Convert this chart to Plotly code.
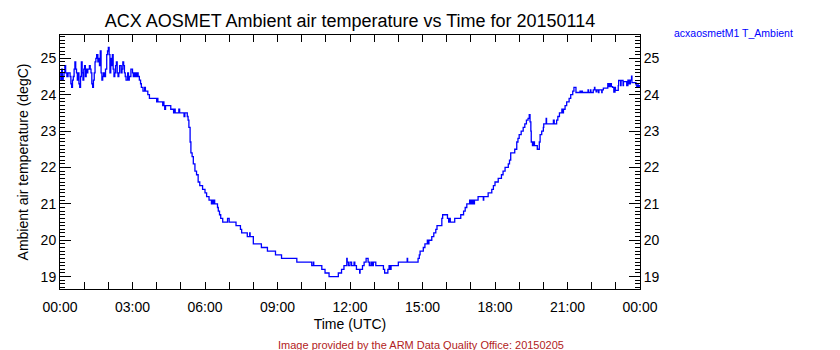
import plotly.graph_objects as go

# AOSMET ambient air temperature, 2015-01-14 (UTC), as step changes (HH:MM, degC)
times = [
    "00:00", "00:02", "00:04", "00:06", "00:08", "00:10", "00:12", "00:14", "00:17", "00:20",
    "00:23", "00:25", "00:27", "00:29", "00:31", "00:33", "00:35", "00:37", "00:39", "00:41",
    "00:43", "00:45", "00:47", "00:49", "00:51", "00:53", "00:55", "00:57", "00:59", "01:01",
    "01:03", "01:05", "01:07", "01:09", "01:11", "01:13", "01:15", "01:17", "01:19", "01:21",
    "01:23", "01:25", "01:27", "01:29", "01:31", "01:34", "01:36", "01:38", "01:40", "01:42",
    "01:44", "01:46", "01:48", "01:50", "01:53", "01:56", "01:58", "02:00", "02:02", "02:04",
    "02:06", "02:08", "02:10", "02:12", "02:14", "02:16", "02:18", "02:20", "02:22", "02:24",
    "02:26", "02:28", "02:30", "02:32", "02:34", "02:36", "02:38", "02:40", "02:42", "02:44",
    "02:46", "02:48", "02:50", "02:52", "02:54", "02:56", "02:58", "03:00", "03:02", "03:04",
    "03:06", "03:08", "03:10", "03:12", "03:14", "03:17", "03:20", "03:22", "03:26", "03:30",
    "03:32", "03:36", "03:38", "03:42", "04:00", "04:02", "04:03", "04:15", "04:17", "04:18",
    "04:20", "04:22", "04:35", "04:42", "04:44", "04:46", "04:55", "04:57", "05:08", "05:10",
    "05:16", "05:18", "05:20", "05:23", "05:25", "05:28", "05:31", "05:35", "05:39", "05:43",
    "05:47", "05:54", "06:00", "06:04", "06:10", "06:16", "06:18", "06:20", "06:22", "06:24",
    "06:31", "06:33", "06:36", "06:39", "06:44", "06:56", "07:00", "07:17", "07:28", "07:31",
    "07:45", "07:51", "07:52", "08:00", "08:20", "08:35", "08:55", "09:10", "09:48", "10:25",
    "10:29", "10:30", "10:50", "10:58", "11:08", "11:31", "11:39", "11:45", "11:52", "11:53",
    "11:56", "12:00", "12:04", "12:10", "12:12", "12:16", "12:24", "12:25", "12:31", "12:35",
    "12:40", "12:45", "12:48", "12:52", "12:55", "12:58", "13:04", "13:23", "13:26", "13:34",
    "13:37", "13:39", "13:42", "14:00", "14:22", "14:23", "14:49", "14:52", "14:54", "15:02",
    "15:06", "15:12", "15:14", "15:16", "15:23", "15:28", "15:33", "15:36", "15:48", "15:50",
    "16:02", "16:05", "16:07", "16:09", "16:20", "16:35", "16:42", "16:46", "16:50", "16:57",
    "17:00", "17:03", "17:06", "17:09", "17:18", "17:31", "17:32", "17:34", "17:43", "17:52",
    "17:56", "18:00", "18:08", "18:16", "18:20", "18:25", "18:33", "18:36", "18:39", "18:49",
    "18:54", "18:57", "19:00", "19:05", "19:10", "19:14", "19:18", "19:22", "19:25", "19:27",
    "19:29", "19:30", "19:33", "19:36", "19:38", "19:41", "19:45", "19:50", "19:52", "19:56",
    "20:00", "20:01", "20:07", "20:08", "20:25", "20:27", "20:33", "20:36", "20:40", "20:46",
    "20:48", "20:50", "20:54", "20:58", "21:04", "21:08", "21:13", "21:16", "21:21", "21:31",
    "21:33", "21:35", "21:37", "21:51", "21:52", "21:57", "21:58", "22:04", "22:07", "22:08",
    "22:11", "22:13", "22:17", "22:18", "22:25", "22:26", "22:29", "22:40", "22:43", "22:46",
    "22:49", "22:52", "22:55", "22:58", "22:59", "23:06", "23:07", "23:12", "23:13", "23:18",
    "23:19", "23:21", "23:27", "23:30", "23:33", "23:36", "23:39", "23:40", "23:43", "23:50",
    "23:52", "23:54", "23:56", "23:58", "24:00",
]

temps = [
    24.6, 24.4, 24.7, 24.4, 24.5, 24.6, 24.8, 24.6, 24.5, 24.6,
    24.6, 24.5, 24.3, 24.2, 24.4, 24.5, 24.7, 24.9, 24.7, 24.6,
    24.4, 24.6, 24.3, 24.2, 24.5, 24.9, 24.6, 24.4, 24.7, 24.8,
    24.5, 24.7, 24.6, 24.7, 24.7, 24.8, 24.7, 24.6, 24.3, 24.2,
    24.4, 24.6, 24.9, 25.0, 25.1, 24.9, 25.0, 24.8, 25.2, 24.6,
    24.4, 24.5, 24.6, 24.5, 24.7, 25.1, 25.2, 25.3, 25.1, 24.6,
    25.0, 24.8, 25.1, 24.7, 24.5, 24.6, 24.8, 24.9, 24.6, 24.5,
    24.6, 24.8, 24.8, 24.6, 24.7, 24.9, 24.8, 24.6, 24.5, 24.4,
    24.4, 24.6, 24.4, 24.5, 24.5, 24.7, 24.7, 24.6, 24.5, 24.6,
    24.5, 24.6, 24.5, 24.6, 24.5, 24.4, 24.3, 24.2, 24.1, 24.2,
    24.1, 24.1, 24.0, 23.9, 23.8, 23.9, 23.8, 23.7, 23.8, 23.7,
    23.6, 23.7, 23.6, 23.5, 23.6, 23.5, 23.6, 23.5, 23.4, 23.5,
    23.4, 23.3, 23.1, 22.7, 22.4, 22.3, 22.1, 21.9, 21.8, 21.6,
    21.5, 21.4, 21.3, 21.2, 21.1, 21.0, 21.1, 21.0, 21.1, 21.0,
    20.9, 20.8, 20.7, 20.6, 20.5, 20.6, 20.5, 20.4, 20.3, 20.2,
    20.1, 20.2, 20.1, 19.9, 19.8, 19.7, 19.6, 19.5, 19.4, 19.3,
    19.4, 19.3, 19.2, 19.1, 19.0, 19.1, 19.2, 19.3, 19.5, 19.4,
    19.3, 19.4, 19.3, 19.4, 19.3, 19.2, 19.1, 19.2, 19.3, 19.4,
    19.5, 19.4, 19.3, 19.4, 19.3, 19.4, 19.3, 19.2, 19.1, 19.2,
    19.3, 19.2, 19.3, 19.4, 19.5, 19.4, 19.5, 19.6, 19.7, 19.8,
    19.9, 20.0, 19.9, 20.0, 20.1, 20.2, 20.3, 20.4, 20.6, 20.7,
    20.6, 20.5, 20.6, 20.5, 20.6, 20.7, 20.8, 20.9, 21.0, 21.1,
    21.0, 21.1, 21.0, 21.1, 21.2, 21.1, 21.2, 21.2, 21.3, 21.4,
    21.5, 21.6, 21.7, 21.8, 21.9, 22.0, 22.1, 22.2, 22.4, 22.5,
    22.7, 22.8, 22.9, 23.0, 23.1, 23.2, 23.3, 23.35, 23.45, 23.25,
    23.0, 22.7, 22.6, 22.7, 22.6, 22.6, 22.5, 22.7, 22.9, 23.0,
    23.1, 23.2, 23.35, 23.2, 23.3, 23.2, 23.3, 23.4, 23.5, 23.6,
    23.5, 23.6, 23.7, 23.8, 23.9, 24.0, 24.1, 24.2, 24.06, 24.1,
    24.06, 24.1, 24.06, 24.13, 24.06, 24.13, 24.06, 24.13, 24.2, 24.13,
    24.08, 24.13, 24.06, 24.13, 24.06, 24.13, 24.18, 24.3, 24.22, 24.3,
    24.22, 24.2, 24.07, 24.2, 24.12, 24.25, 24.39, 24.25, 24.39, 24.25,
    24.36, 24.36, 24.25, 24.4, 24.3, 24.4, 24.51, 24.33, 24.33, 24.27,
    24.22, 24.27, 24.22, 24.25, 24.25,
]

# axis tick labels
hour_ticks = ["00:00", "03:00", "06:00", "09:00", "12:00", "15:00", "18:00", "21:00", "00:00"]
temp_ticks = [19, 20, 21, 22, 23, 24, 25]
temp_range = [18.66, 25.64]


def to_stamp(hhmm):
    h, m = (int(p) for p in hhmm.split(":"))
    day = 14 + h // 24
    return f"2015-01-{day:02d} {h % 24:02d}:{m:02d}:00"


x = [to_stamp(t) for t in times]
tick_vals = [to_stamp(f"{3 * i:02d}:00") for i in range(len(hour_ticks))]

font_family = "Liberation Sans, Arial, sans-serif"
blue = "#0000FF"

fig = go.Figure()
fig.add_trace(go.Scatter(
    x=x, y=temps, mode="lines", line=dict(color=blue, width=1.3, shape="hv"),
    showlegend=False, hoverinfo="x+y",
))
# twin of the series on the right-hand axis so it gets drawn with its labels
fig.add_trace(go.Scatter(
    x=x, y=temps, mode="lines", yaxis="y2", line=dict(color=blue, width=0),
    opacity=0, showlegend=False, hoverinfo="skip",
))

yaxis_common = dict(
    range=temp_range, tickvals=temp_ticks, ticktext=[str(v) for v in temp_ticks],
    ticks="inside", ticklen=11, tickwidth=1, tickcolor="black",
    minor=dict(ticks="inside", ticklen=5, dtick=0.1, tickwidth=1, tickcolor="black", showgrid=False),
    showline=True, linecolor="black", linewidth=1, showgrid=False, zeroline=False,
    tickfont=dict(family=font_family, size=14, color="black"),
)

fig.update_layout(
    width=840, height=350,
    margin=dict(l=60, r=200, t=35, b=61),
    paper_bgcolor="white", plot_bgcolor="white",
    font=dict(family=font_family, color="black"),
    title=dict(
        text="ACX AOSMET Ambient air temperature vs Time for 20150114",
        x=(60 + 640) / 2 / 840, xanchor="center", y=1 - 21 / 350, yanchor="middle",
        font=dict(size=18, family=font_family, color="black"),
    ),
    xaxis=dict(
        type="date",
        range=[to_stamp("00:00"), to_stamp("24:00")],
        tickvals=tick_vals, ticktext=hour_ticks,
        ticks="inside", ticklen=7, tickwidth=1, tickcolor="black",
        minor=dict(ticks="inside", ticklen=4, dtick=3600000, tickwidth=1, tickcolor="black", showgrid=False),
        showline=True, linecolor="black", linewidth=1, mirror="allticks",
        showgrid=False, zeroline=False, ticklabelstandoff=5,
        tickfont=dict(family=font_family, size=14, color="black"),
        title=dict(text="Time (UTC)", font=dict(size=14, family=font_family), standoff=5),
    ),
    yaxis=dict(
        **yaxis_common,
        side="left",
        title=dict(text="Ambient air temperature (degC)", font=dict(size=14, family=font_family), standoff=8),
    ),
    yaxis2=dict(**yaxis_common, side="right", overlaying="y"),
    annotations=[
        dict(
            text="acxaosmetM1 T_Ambient", xref="paper", yref="paper",
            x=(672 - 60) / 580, y=(289 - 33) / 254, xanchor="left", yanchor="middle",
            showarrow=False, font=dict(size=10.5, color=blue, family=font_family),
        ),
        dict(
            text="Image provided by the ARM Data Quality Office: 20150205",
            xref="paper", yref="paper",
            x=(421 - 60) / 580, y=(289 - 345) / 254, xanchor="center", yanchor="middle",
            showarrow=False, font=dict(size=11, color="#B22222", family=font_family),
        ),
    ],
)

fig.write_html("out.html")
